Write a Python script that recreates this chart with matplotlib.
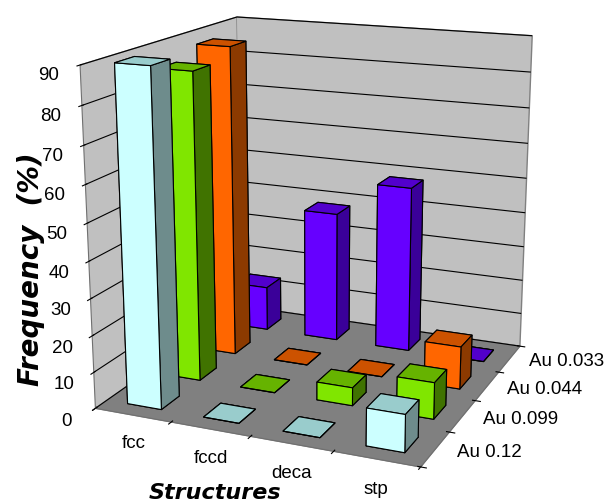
"""3D bar chart: structure frequencies for several Au concentrations."""

import matplotlib.pyplot as plt

structures = ["fcc", "fccd", "deca", "stp"]
series = ["Au 0.12", "Au 0.099", "Au 0.044", "Au 0.033"]

freq_au_012 = [90, 0, 0, 10]
freq_au_0099 = [85, 0, 5, 10]
freq_au_0044 = [88, 0, 0, 12]
freq_au_0033 = [13, 38, 48, 0]

values = [freq_au_012, freq_au_0099, freq_au_0044, freq_au_0033]

# (front, top, side) shades for each series
shades = [
    ("#CCFFFF", "#99CCCC", "#6E8C8C"),
    ("#80E600", "#66B300", "#407300"),
    ("#FF6600", "#CC5200", "#8C3A00"),
    ("#6600FF", "#5200CC", "#3A0099"),
]

plt.rcParams["font.family"] = ["Liberation Sans", "DejaVu Sans"]

fig = plt.figure(figsize=(6.12, 5.01), dpi=100)
ax = fig.add_axes([0.01, 0.052, 1.0, 1.0], projection="3d", computed_zorder=False)
ax.view_init(elev=16, azim=-67)
ax.set_proj_type("persp", focal_length=0.55)
ax.set_box_aspect((1.08, 1.05, 1.09), zoom=1.12)

# Bars, drawn back row first so nearer bars cover farther ones
w = 0.45
for j in reversed(range(len(series))):
    front, top, side = shades[j]
    for i in range(len(structures)):
        h = values[j][i]
        # face order in bar3d: -z, +z, -y, +y, -x, +x
        ax.bar3d(i + 0.5 - w / 2, j + 0.5 - w / 2, 0, w, w, h,
                 color=[top, top, front, front, side, side], shade=False,
                 edgecolor="black", linewidth=0.8)

ax.set_xlim(0, len(structures))
ax.set_ylim(0, len(series))
ax.set_zlim(0, 90)

# Tick marks sit on the category / series boundaries, labels in between
ax.set_xticks(range(len(structures) + 1))
ax.set_xticklabels([])
ax.set_yticks(range(len(series) + 1))
ax.set_yticklabels([])
ax.set_zticks(range(0, 91, 10))
ax.tick_params(axis="z", labelsize=13.5)
ax.zaxis.set_ticks_position("lower")

for i, name in enumerate(structures):
    ax.text(i + 0.5, 0, -8, name, fontsize=13.5, ha="center", va="center")
for j, name in enumerate(series):
    ax.text(len(structures) + 0.25, j + 0.5, 0, name, fontsize=13.5,
            ha="left", va="center")

# Walls and floor
ax.xaxis.set_pane_color("#C0C0C0")
ax.yaxis.set_pane_color("#C0C0C0")
ax.zaxis.set_pane_color("#808080")
for axis in (ax.xaxis, ax.yaxis, ax.zaxis):
    axis.pane.set_edgecolor("#808080")
    axis.line.set_color("#707070")

# Only horizontal gridlines on the walls
ax.xaxis._axinfo["grid"]["color"] = (0, 0, 0, 0)
ax.yaxis._axinfo["grid"]["color"] = (0, 0, 0, 0)
ax.zaxis._axinfo["grid"].update(color="black", linewidth=0.8, linestyle="-")

fig.text(0.051, 0.463, "Frequency  (%)", rotation=90, fontsize=20,
         fontweight="bold", style="italic", family="DejaVu Sans",
         ha="center", va="center")
fig.text(0.352, 0.004, "Structures", fontsize=16, fontweight="bold",
         style="italic", family="DejaVu Sans", ha="center", va="baseline")

fig.savefig("out.png", dpi=100)
